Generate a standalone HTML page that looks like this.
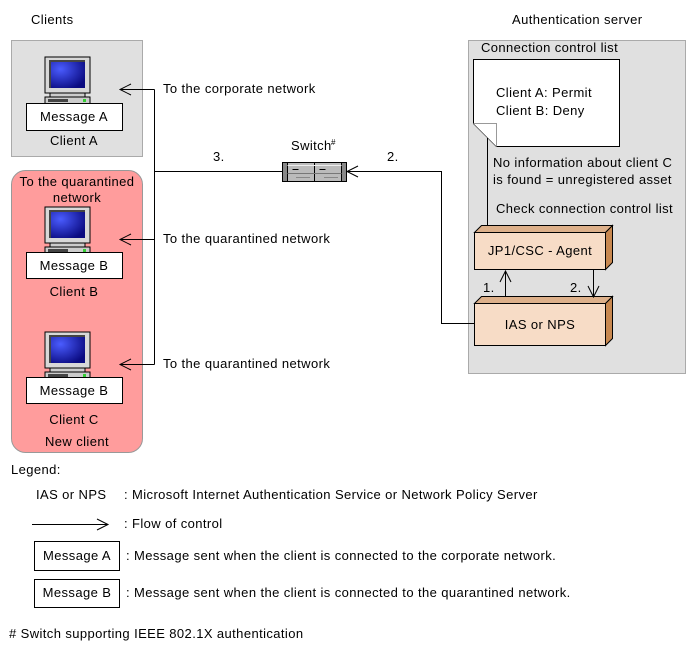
<!DOCTYPE html>
<html><head><meta charset="utf-8"><style>
html,body{margin:0;padding:0;background:#fff;}
svg{display:block;font-family:"Liberation Sans",sans-serif;font-size:13px;letter-spacing:0.4px;}
</style></head><body>
<svg width="688" height="651" viewBox="0 0 688 651" xmlns="http://www.w3.org/2000/svg">
<defs>
<radialGradient id="scr" cx="0.3" cy="0.3" r="0.8">
<stop offset="0" stop-color="#4a5cff"/><stop offset="1" stop-color="#0a0a80"/></radialGradient>
<g id="pc">
<rect x="0" y="0" width="45" height="36" fill="#d8d8d8" stroke="#000" stroke-width="1"/>
<rect x="5" y="4" width="35" height="27" fill="url(#scr)"/>
<path d="M5 31 V4 H40" fill="none" stroke="#444" stroke-width="2"/>
<rect x="5" y="36" width="35" height="4" fill="#ccc" stroke="#000" stroke-width="1"/>
<rect x="0" y="40" width="45" height="8" fill="#ccc" stroke="#000" stroke-width="1"/>
<rect x="3" y="42" width="20" height="3" fill="#444"/>
<rect x="38" y="42" width="3" height="3" fill="#3c3"/>
</g>
<g id="sw">
<rect x="0" y="0" width="64" height="19" fill="#bbb" stroke="#000"/>
<rect x="0" y="0" width="5" height="19" fill="#888" stroke="#000"/>
<rect x="59" y="0" width="5" height="19" fill="#888" stroke="#000"/>
<line x1="32" y1="0" x2="32" y2="19" stroke="#000"/>
<line x1="5" y1="3" x2="59" y2="3" stroke="#eee"/>
<line x1="5" y1="11" x2="59" y2="11" stroke="#777"/>
<line x1="10" y1="7" x2="16" y2="7" stroke="#000"/>
<line x1="37" y1="7" x2="43" y2="7" stroke="#000"/>
<line x1="14" y1="15" x2="28" y2="15" stroke="#555" stroke-dasharray="1,1"/>
<line x1="42" y1="15" x2="56" y2="15" stroke="#555" stroke-dasharray="1,1"/>
</g>
</defs>

<text x="31" y="24">Clients</text>
<text x="512" y="24">Authentication server</text>

<rect x="11.5" y="40.5" width="131" height="116" fill="#e0e0e0" stroke="#aaa"/>
<use href="#pc" x="45" y="57"/>
<rect x="26.5" y="103.5" width="96" height="27" fill="#fff" stroke="#000"/>
<text x="74" y="121" text-anchor="middle">Message A</text>
<text x="74" y="145" text-anchor="middle">Client  A</text>

<rect x="11.5" y="170.5" width="131" height="282" rx="14" fill="#ff9c9c" stroke="#999"/>
<text x="77" y="186" text-anchor="middle">To the quarantined</text>
<text x="77" y="202" text-anchor="middle">network</text>
<use href="#pc" x="45" y="207"/>
<rect x="26.5" y="252.5" width="96" height="26" fill="#fff" stroke="#000"/>
<text x="74" y="270" text-anchor="middle">Message B</text>
<text x="74" y="296" text-anchor="middle">Client  B</text>
<use href="#pc" x="45" y="332"/>
<rect x="26.5" y="377.5" width="96" height="26" fill="#fff" stroke="#000"/>
<text x="74" y="395" text-anchor="middle">Message B</text>
<text x="74" y="424" text-anchor="middle">Client  C</text>
<text x="77" y="446" text-anchor="middle">New client</text>

<rect x="468.5" y="40.5" width="217" height="333" fill="#e0e0e0" stroke="#aaa"/>

<g stroke="#000" fill="none" stroke-width="1">
<path d="M154.5 89.5 V364.5"/>
<path d="M120 89.5 H154.5 M131 84 L120 89.5 L131 95"/>
<path d="M120 239.5 H154.5 M131 234 L120 239.5 L131 245"/>
<path d="M120 364.5 H154.5 M131 359 L120 364.5 L131 370"/>
<path d="M154.5 171.5 H282"/>
<path d="M347 171.5 H441.5 V323.5 H474 M358 166 L347 171.5 L358 177"/>
</g>
<text x="163" y="93">To the corporate network</text>
<text x="163" y="243">To the quarantined network</text>
<text x="163" y="368">To the quarantined network</text>
<text x="213" y="161">3.</text>
<text x="387" y="161">2.</text>
<text x="291" y="150">Switch</text><text x="331" y="145" font-size="8">#</text>
<use href="#sw" x="282.5" y="162.5"/>

<text x="481" y="52">Connection control list</text>
<path d="M473.5 59.5 H619.5 V146.5 H496.5 L473.5 123.5 Z" fill="#fff" stroke="#000"/>
<path d="M473.5 123.5 H496.5 V146.5" fill="#fff" stroke="#999"/>
<text x="496" y="97">Client A: Permit</text>
<text x="496" y="115">Client B:  Deny</text>
<line x1="487.5" y1="138" x2="487.5" y2="225" stroke="#000"/>
<text x="493" y="167">No information about client C</text>
<text x="493" y="184">is found = unregistered asset</text>
<text x="496" y="213">Check connection control list</text>

<path d="M474.5 232.5 L481.5 225.5 H612.5 L605.5 232.5 Z" fill="#ddb08a" stroke="#000"/>
<path d="M605.5 232.5 L612.5 225.5 V262.5 L605.5 269.5 Z" fill="#c88850" stroke="#000"/>
<rect x="474.5" y="232.5" width="131" height="37" fill="#f7dcc6" stroke="#000"/>
<text x="540" y="255" text-anchor="middle">JP1/CSC - Agent</text>
<path d="M474.5 303.5 L481.5 296.5 H612.5 L605.5 303.5 Z" fill="#ddb08a" stroke="#000"/>
<path d="M605.5 303.5 L612.5 296.5 V338.5 L605.5 345.5 Z" fill="#c88850" stroke="#000"/>
<rect x="474.5" y="303.5" width="131" height="42" fill="#f7dcc6" stroke="#000"/>
<text x="540" y="329" text-anchor="middle">IAS or NPS</text>
<g stroke="#000" fill="none">
<path d="M505.5 297 V271 M500 282 L505.5 271 L511 282"/>
<path d="M593.5 270 V297 M588 286 L593.5 297 L599 286"/>
</g>
<text x="483" y="292">1.</text>
<text x="570" y="292">2.</text>

<text x="11" y="474">Legend:</text>
<text x="36" y="499">IAS or NPS</text>
<text x="124" y="499">: Microsoft Internet Authentication Service or Network Policy Server</text>
<path d="M32 524.5 H108 M97 519 L108 524.5 L97 530" stroke="#000" fill="none"/>
<text x="124" y="528">: Flow of control</text>
<rect x="34.5" y="541.5" width="85" height="29" fill="#fff" stroke="#000"/>
<text x="77" y="560" text-anchor="middle">Message A</text>
<text x="126" y="560">: Message sent when the client is connected to the corporate network.</text>
<rect x="34.5" y="579.5" width="85" height="28" fill="#fff" stroke="#000"/>
<text x="77" y="597" text-anchor="middle">Message B</text>
<text x="126" y="597">: Message sent when the client is connected to the quarantined network.</text>
<text x="9" y="638"># Switch supporting IEEE 802.1X authentication</text>
</svg>
</body></html>
